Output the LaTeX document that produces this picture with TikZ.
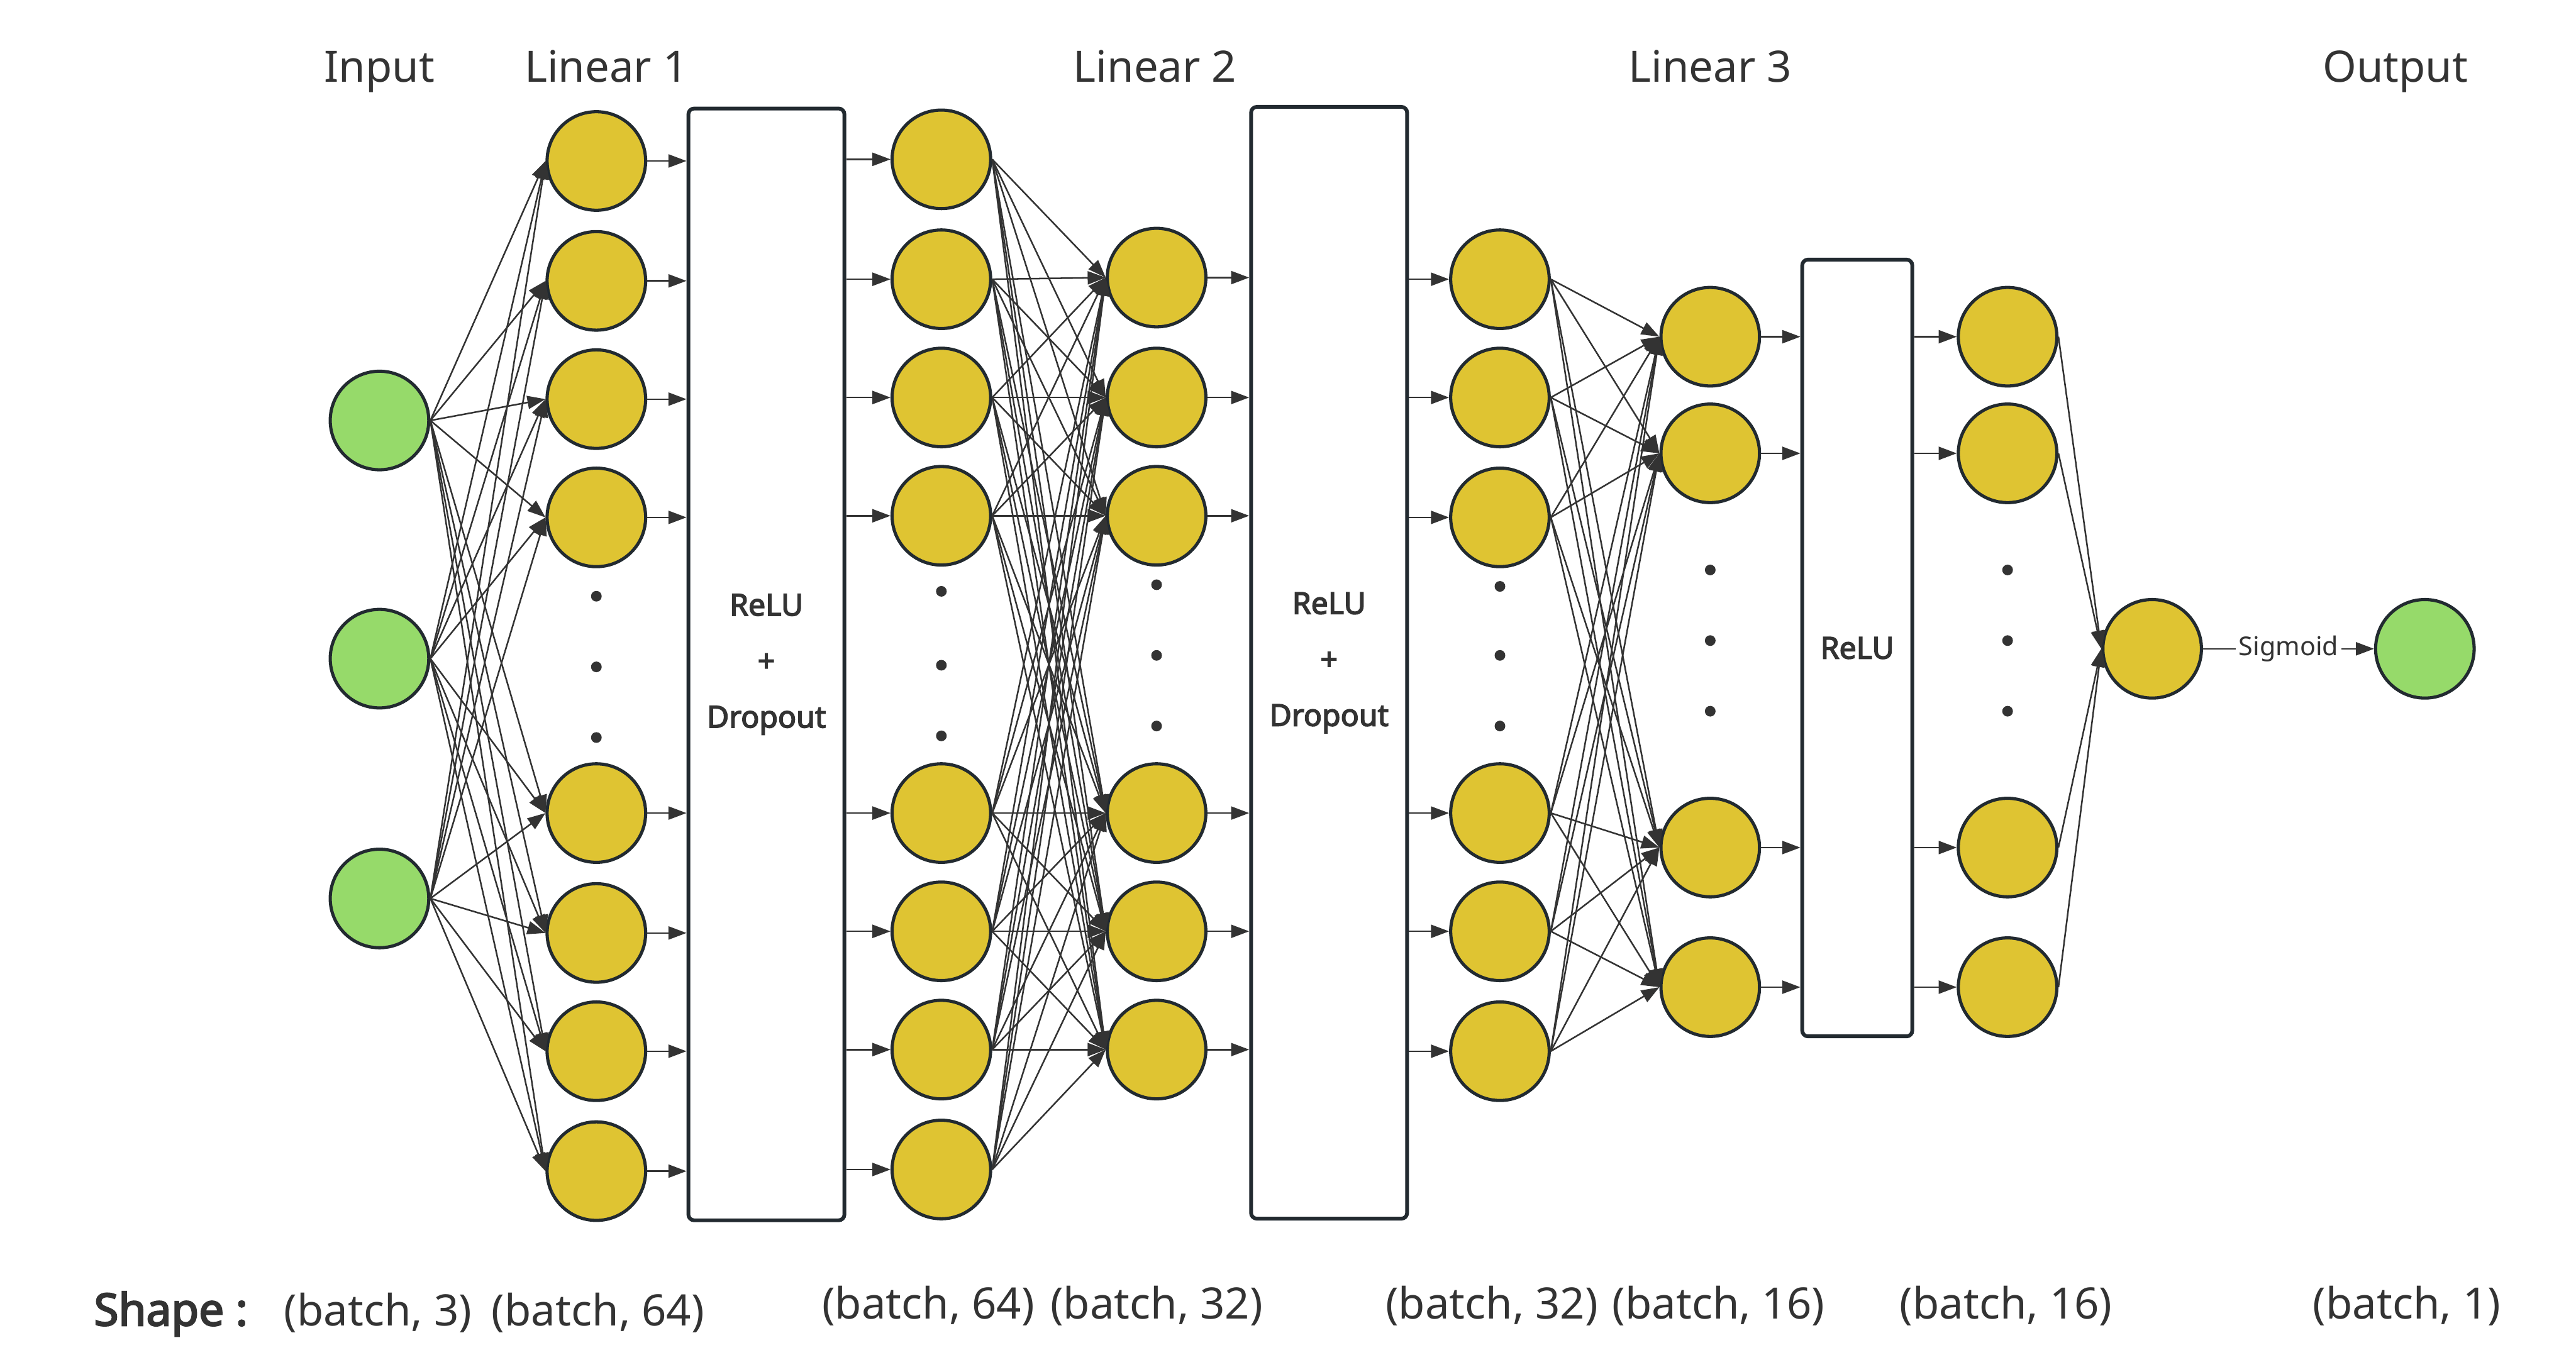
\documentclass[tikz,border=0pt]{standalone}
\usepackage{fontspec}
\setmainfont{Noto Sans}[BoldFont={Noto Sans}, BoldFeatures={FakeBold=3.2}]
\usetikzlibrary{arrows.meta}
\usepackage{xcolor}
\definecolor{nodeyellow}{RGB}{223,196,50}
\definecolor{nodegreen}{RGB}{150,218,106}
\definecolor{edgegray}{RGB}{51,51,51}
\definecolor{rimdark}{RGB}{34,42,48}

\begin{document}
\begin{tikzpicture}[
    x=0.02cm, y=-0.02cm,
    neuron/.style={circle, draw=rimdark, line width=1.1pt, fill=nodeyellow,
        minimum size=1.2cm, inner sep=0pt},
    inp/.style={neuron, fill=nodegreen},
    vdot/.style={circle, fill=edgegray, minimum size=0.13cm, inner sep=0pt},
    layer/.style={rectangle, draw=rimdark, line width=1.3pt, rounded corners=2pt,
        fill=white, minimum width=1.9cm, minimum height=13.54cm,
        font=\bfseries\fontsize{10.5}{19.4}\selectfont, text=edgegray, align=center},
    arrow/.style={-{Triangle[length=0.22cm, width=0.16cm]}, line width=0.55pt, edgegray},
    title/.style={font=\fontsize{15}{18}\selectfont, text=edgegray, anchor=base}
]
    \useasboundingbox (0,0) rectangle (1568,835);

    % Titles
    \node[title] (tin) at (231,50) {Input};
    \node[title] (tl1) at (369,50) {Linear 1};
    \node[title] (tl2) at (703,50) {Linear 2};
    \node[title] (tl3) at (1041,50) {Linear 3};
    \node[title] (tout) at (1458,50) {Output};

    % Input layer
    \foreach \y [count=\i] in {256,401,547}
        \node[inp] (in\i) at (231,\y) {};

    % Linear 1
    \foreach \y [count=\i] in {98,171,243,315,495,568,640,713}
        \node[neuron] (fc1-\i) at (363,\y) {};
    \foreach \y [count=\i] in {363,406,449}
        \node[vdot] (dot1-\i) at (363,\y) {};
    \node[layer] (box1) at (466.5,404.5) {ReLU\\+\\Dropout};
    \foreach \y [count=\i] in {97,170,242,314,495,567,639,712}
        \node[neuron] (act1-\i) at (573,\y) {};
    \foreach \y [count=\i] in {360,405,448}
        \node[vdot] (dot2-\i) at (573,\y) {};

    % Linear 2
    \foreach \y [count=\i] in {169,242,314,495,567,639}
        \node[neuron] (fc2-\i) at (704,\y) {};
    \foreach \y [count=\i] in {356,399,442}
        \node[vdot] (dot3-\i) at (704,\y) {};
    \node[layer] (box2) at (809,403.5) {ReLU\\+\\Dropout};
    \foreach \y [count=\i] in {170,242,315,495,567,640}
        \node[neuron] (act2-\i) at (913,\y) {};
    \foreach \y [count=\i] in {357,399,442}
        \node[vdot] (dot4-\i) at (913,\y) {};

    % Linear 3
    \foreach \y [count=\i] in {205,276,516,601}
        \node[neuron] (fc3-\i) at (1041,\y) {};
    \foreach \y [count=\i] in {347,390,433}
        \node[vdot] (dot5-\i) at (1041,\y) {};
    \node[layer, minimum width=1.34cm, minimum height=9.46cm] (box3) at (1130.5,394.5) {ReLU};
    \foreach \y [count=\i] in {205,276,516,601}
        \node[neuron] (act3-\i) at (1222,\y) {};
    \foreach \y [count=\i] in {347,390,433}
        \node[vdot] (dot6-\i) at (1222,\y) {};

    % Output
    \node[neuron] (fc4) at (1310,395) {};
    \node[inp] (sig) at (1476,395) {};

    % Full connections
    \foreach \i in {1,...,3}
        \foreach \j in {1,...,8}
            \draw[arrow] (in\i.east) -- (fc1-\j.west);
    \foreach \i in {1,...,8}
        \foreach \j in {1,...,6}
            \draw[arrow] (act1-\i.east) -- (fc2-\j.west);
    \foreach \i in {1,...,6}
        \foreach \j in {1,...,4}
            \draw[arrow] (act2-\i.east) -- (fc3-\j.west);
    \foreach \i in {1,...,4}
        \draw[arrow] (act3-\i.east) -- (fc4.west);

    % Through the activation boxes
    \foreach \i in {1,...,8} {
        \draw[arrow] (fc1-\i.east) -- (fc1-\i.east -| box1.west);
        \draw[arrow] (act1-\i.west -| box1.east) -- (act1-\i.west);
    }
    \foreach \i in {1,...,6} {
        \draw[arrow] (fc2-\i.east) -- (fc2-\i.east -| box2.west);
        \draw[arrow] (act2-\i.west -| box2.east) -- (act2-\i.west);
    }
    \foreach \i in {1,...,4} {
        \draw[arrow] (fc3-\i.east) -- (fc3-\i.east -| box3.west);
        \draw[arrow] (act3-\i.west -| box3.east) -- (act3-\i.west);
    }

    \draw[arrow] (fc4) -- node[fill=white, inner sep=1pt, text=edgegray,
        font=\fontsize{9}{10}\selectfont] (siglab) {Sigmoid} (sig);

    % Shapes
    \node[title, font=\bfseries\fontsize{15.5}{18}\selectfont] (shp) at (104,807) {Shape :};
    \node[title] (s0) at (230,807) {(batch, 3)};
    \node[title] (s1) at (364,807) {(batch, 64)};
    \node[title] (s2) at (565,803) {(batch, 64)};
    \node[title] (s3) at (704,803) {(batch, 32)};
    \node[title] (s4) at (908,803) {(batch, 32)};
    \node[title] (s5) at (1046,803) {(batch, 16)};
    \node[title] (s6) at (1221,803) {(batch, 16)};
    \node[title] (s7) at (1465,803) {(batch, 1)};
\end{tikzpicture}
\end{document}
